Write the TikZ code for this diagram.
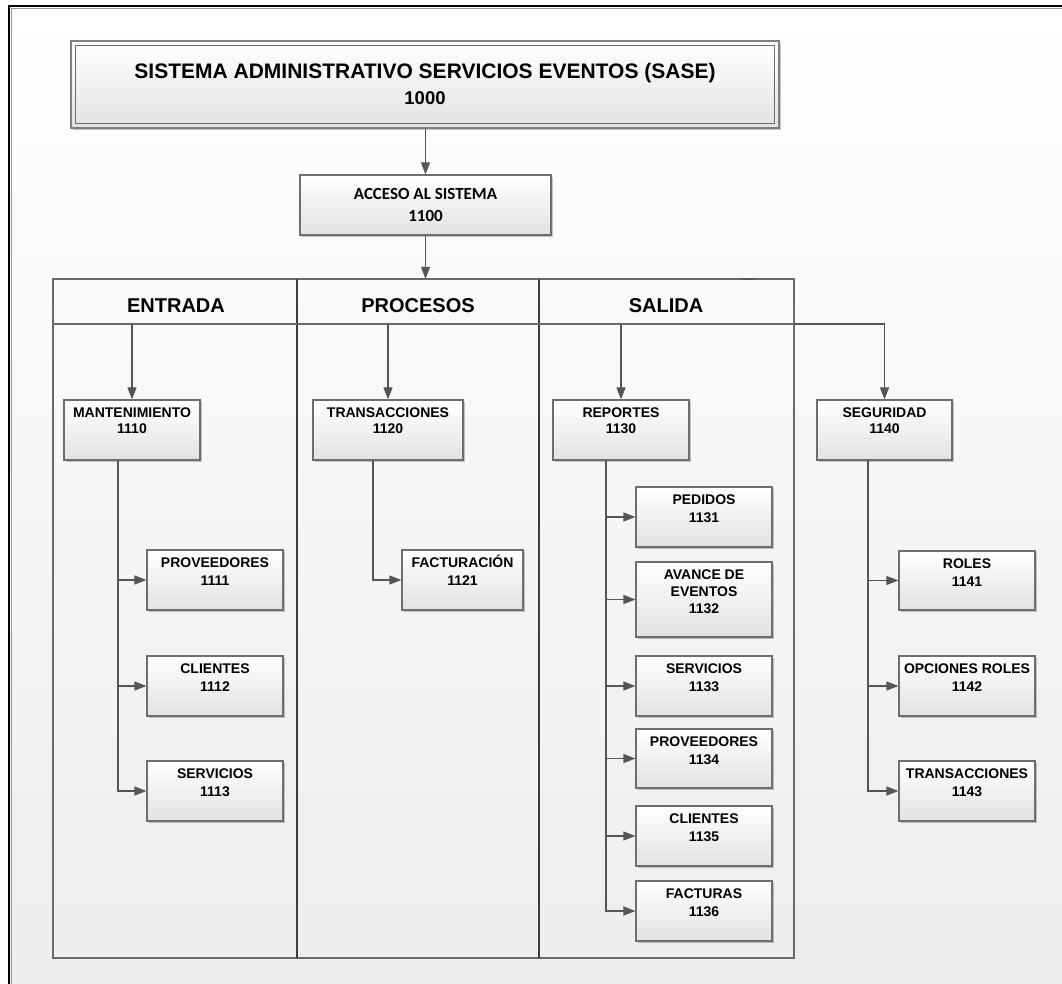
\documentclass[tikz,border=0pt]{standalone}
\usepackage{fontspec}
\setmainfont{Liberation Sans}
\newfontfamily\calib{Carlito}
\usetikzlibrary{arrows.meta,shadows,calc}
\definecolor{boxline}{HTML}{6E6E6E}
\definecolor{conline}{HTML}{555555}
\definecolor{boxbot}{HTML}{E2E2E2}
\definecolor{bgbot}{HTML}{EDEDED}
\definecolor{laneline}{HTML}{6A6A6A}
\definecolor{divline}{HTML}{3C3C3C}
\tikzset{
  box/.style={draw=boxline, line width=1.2pt, top color=white, bottom color=boxbot,
    inner sep=0pt, drop shadow={shadow xshift=1.6pt, shadow yshift=-1.6pt, opacity=0.22, fill=black}},
  lbl/.style={align=center, inner sep=0pt, font=\bfseries\fontsize{14}{17}\selectfont},
  hdr/.style={inner sep=0pt, font=\bfseries\fontsize{20}{24}\selectfont},
  conn/.style={draw=conline, line width=1.2pt, -{Triangle[length=12pt,width=9pt]}},
}
\newcommand\bx[7]{%
  \node[box, minimum width={#4-#2}, minimum height={#5-#3}] (#1) at ({(#2+#4)/2},{(#3+#5)/2}) {};
  \node[lbl, font=\bfseries\fontsize{14}{#7}\selectfont, anchor=north] (#1t) at ($(#1.north)+(0,4.5)$) {\rule{0pt}{13pt}#6};}
\begin{document}
\begin{tikzpicture}[x=1pt,y=-1pt]
\useasboundingbox (0,0) rectangle (1062,984);
\fill[white] (0,0) rectangle (1062,984);
\shade[top color=white, bottom color=bgbot] (10,7) rectangle (1062,984);
% outer frame
\draw[black, line width=2pt] (9,984) -- (9,5.7) -- (1062,5.7);
\draw[black!40, line width=1.4pt] (11.6,984) -- (11.6,8.5) -- (1062,8.5);

% title
\node[box, line width=1.8pt, draw=black!50, minimum width=708, minimum height=87] (title) at (425,84.5) {};
\draw[boxline, line width=1.1pt] ($(title.north west)+(5,5)$) rectangle ($(title.south east)+(-5,-5)$);
\node[anchor=base, inner sep=0pt, font=\bfseries\fontsize{21}{24}\selectfont] (tt1) at (425,78.5) {SISTEMA ADMINISTRATIVO SERVICIOS EVENTOS (SASE)};
\node[anchor=base, inner sep=0pt, font=\bfseries\fontsize{18.5}{22}\selectfont] (tt2) at (425,104.5) {1000};

% acceso
\node[box, minimum width=251, minimum height=60] (acc) at (425.5,205) {};
\node[anchor=base, inner sep=0pt, font=\calib\bfseries\fontsize{17}{20}\selectfont] (acct1) at (425.5,199.5) {ACCESO AL SISTEMA};
\node[anchor=base, inner sep=0pt, font=\calib\bfseries\fontsize{17}{20}\selectfont] (acct2) at (425.5,221.5) {1100};
\draw[conn] (title.south -| acc.north) -- (acc.north);

% swimlane
\draw[laneline, line width=1.2pt] (53,279) rectangle (794,958);
\node[inner sep=0pt, minimum width=741, minimum height=45] (lanehead) at (423.5,301.5) {};
\draw[conn] (acc.south) -- (lanehead.north -| acc.south);
\draw[divline, line width=1.2pt] (297,279) -- (297,958);
\draw[divline, line width=1.2pt] (539,279) -- (539,958);
\draw[black!65, line width=2.4pt] (741,279) -- (756,279);
\coordinate (hl) at (53,324);
\coordinate (hr) at (794,324);
\draw[laneline, line width=1.2pt] (hl) -- (hr);
\node[hdr, anchor=base] (hent) at (176,312) {ENTRADA};
\node[hdr, anchor=base] (hpro) at (418,312) {PROCESOS};
\node[hdr, anchor=base] (hsal) at (666,312) {SALIDA};

% level 2
\bx{mant}{64}{400}{200}{460}{MANTENIMIENTO\\1110}{16}
\bx{trans}{313}{400}{463}{460}{TRANSACCIONES\\1120}{16}
\bx{rep}{553}{400}{689}{460}{REPORTES\\1130}{16}
\bx{seg}{817}{400}{952}{460}{SEGURIDAD\\1140}{16}
\draw[conn] (hl -| mant.north) -- (mant.north);
\draw[conn] (hl -| trans.north) -- (trans.north);
\draw[conn] (hl -| rep.north) -- (rep.north);
\draw[conn] (hr) -| (seg.north);

% entrada children
\bx{e1}{147}{550}{283}{610}{PROVEEDORES\\1111}{18}
\bx{e2}{147}{656}{283}{716}{CLIENTES\\1112}{18}
\bx{e3}{147}{761}{283}{821}{SERVICIOS\\1113}{18}
\coordinate (vm) at (118,460);
\draw[conn] (vm) |- (e1.west);
\draw[conn] (vm) |- (e2.west);
\draw[conn] (vm) |- (e3.west);

% procesos children
\bx{p1}{402}{550}{523}{610}{FACTURACIÓN\\1121}{18}
\coordinate (vt) at (373,460);
\draw[conn] (vt) |- (p1.west);

% salida children
\bx{s1}{636}{487}{772}{547}{PEDIDOS\\1131}{18}
\bx{s2}{636}{562}{772}{637}{AVANCE DE\\EVENTOS\\1132}{17}
\bx{s3}{636}{656}{772}{716}{SERVICIOS\\1133}{18}
\bx{s4}{636}{729}{772}{788}{PROVEEDORES\\1134}{18}
\bx{s5}{636}{806}{772}{866}{CLIENTES\\1135}{18}
\bx{s6}{636}{881}{772}{941}{FACTURAS\\1136}{18}
\coordinate (vr) at (606,460);
\draw[conn] (vr) |- (s1.west);
\draw[conn] (vr) |- (s2.west);
\draw[conn] (vr) |- (s3.west);
\draw[conn] (vr) |- (s4.west);
\draw[conn] (vr) |- (s5.west);
\draw[conn] (vr) |- (s6.west);

% seguridad children
\bx{g1}{899}{551}{1035}{610}{ROLES\\1141}{18}
\bx{g2}{899}{656}{1035}{716}{OPCIONES ROLES\\1142}{18}
\bx{g3}{899}{761}{1035}{821}{TRANSACCIONES\\1143}{18}
\coordinate (vg) at (868,460);
\draw[conn] (vg) |- (g1.west);
\draw[conn] (vg) |- (g2.west);
\draw[conn] (vg) |- (g3.west);
\end{tikzpicture}
\end{document}
